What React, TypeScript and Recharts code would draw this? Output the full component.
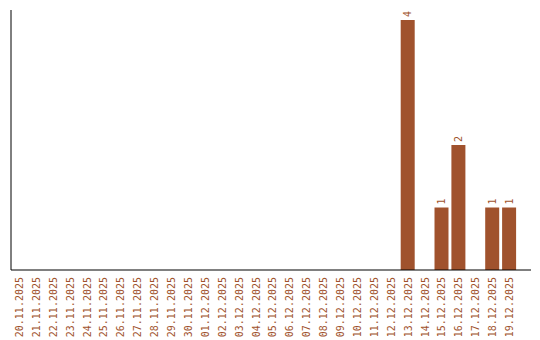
import React from "react";
import { BarChart, Bar, XAxis, YAxis, LabelList } from "recharts";

const categories = [
  "20.11.2025", "21.11.2025", "22.11.2025", "23.11.2025", "24.11.2025",
  "25.11.2025", "26.11.2025", "27.11.2025", "28.11.2025", "29.11.2025",
  "30.11.2025", "01.12.2025", "02.12.2025", "03.12.2025", "04.12.2025",
  "05.12.2025", "06.12.2025", "07.12.2025", "08.12.2025", "09.12.2025",
  "10.12.2025", "11.12.2025", "12.12.2025", "13.12.2025", "14.12.2025",
  "15.12.2025", "16.12.2025", "17.12.2025", "18.12.2025", "19.12.2025",
];
const values = [
  0, 0, 0, 0, 0, 0, 0, 0, 0, 0,
  0, 0, 0, 0, 0, 0, 0, 0, 0, 0,
  0, 0, 0, 4, 0, 1, 2, 0, 1, 1,
];

const data = categories.map((c, i) => ({ date: c, count: values[i] }));

const COLOR = "#a0522d";
const FONT = "DejaVu Sans Mono";

const Tick = (props: any) => {
  const { x, y, payload } = props;
  const ty = y + 7;
  return (
    <text
      x={x}
      y={ty}
      transform={`rotate(-90 ${x} ${ty})`}
      textAnchor="end"
      dy="0.35em"
      fill={COLOR}
      fontFamily={FONT}
      fontSize={10}
    >
      {payload.value}
    </text>
  );
};

const ValueLabel = (props: any) => {
  const { x, y, width, value } = props;
  if (!value) return null;
  const cx = x + width / 2;
  const cy = y - 3;
  return (
    <text
      x={cx}
      y={cy}
      transform={`rotate(-90 ${cx} ${cy})`}
      textAnchor="start"
      dy="0.35em"
      fill={COLOR}
      fontFamily={FONT}
      fontSize={10}
    >
      {value}
    </text>
  );
};

export default function App() {
  return (
    <BarChart
      width={532}
      height={332}
      data={data}
      margin={{ top: 2, right: 9, bottom: 0, left: 1 }}
      barSize={14}
    >
      <XAxis
        dataKey="date"
        interval={0}
        tickLine={false}
        tickSize={0}
        tickMargin={0}
        axisLine={{ stroke: "#000" }}
        height={70}
        padding={{ left: 0, right: 13 }}
        tick={<Tick />}
      />
      <YAxis
        width={2}
        domain={[0, 4]}
        tick={false}
        tickLine={false}
        axisLine={{ stroke: "#000" }}
        padding={{ top: 10, bottom: 0 }}
      />
      <Bar dataKey="count" fill={COLOR} isAnimationActive={false}>
        <LabelList dataKey="count" content={<ValueLabel />} />
      </Bar>
    </BarChart>
  );
}
